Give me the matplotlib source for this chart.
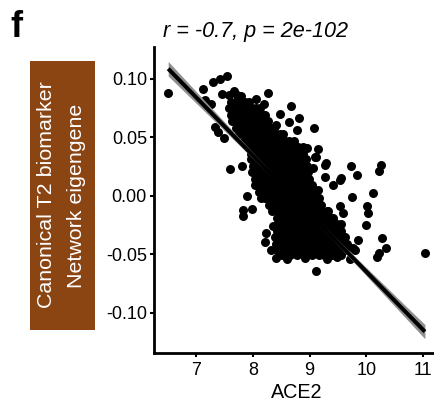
import numpy as np
import matplotlib
matplotlib.use("Agg")
import matplotlib.pyplot as plt
from matplotlib.patches import Rectangle

plt.rcParams['font.family'] = ['Liberation Sans', 'DejaVu Sans']
plt.rcParams['axes.unicode_minus'] = False

# Samples lying around the edge of the main cloud
sample_ace2 = [6.51, 7.12, 7.30, 7.43, 7.54, 7.45, 7.15, 7.26, 7.33, 7.39,
               7.49, 7.59, 7.81, 7.90, 7.82, 7.99, 7.83, 8.35, 8.24, 8.21,
               8.32, 8.40, 8.27, 8.67, 8.47, 8.63, 8.82, 9.08, 8.77, 8.40,
               9.15, 9.12, 9.29, 9.73, 8.95, 9.06, 10.25, 10.23, 9.83, 9.56,
               9.41, 9.27, 9.27, 9.74, 10.12, 10.01, 10.03, 9.99, 9.54, 9.56,
               9.85, 9.80, 10.28, 10.34, 10.19, 10.23, 9.71, 9.11, 11.03, 9.09,
               9.59, 9.77, 9.53, 9.15, 7.66, 7.80, 8.60, 8.92, 9.30, 9.48,
               8.05, 8.20]
sample_eigengene = [0.088, 0.091, 0.097, 0.100, 0.102, 0.087, 0.082, 0.078, 0.059, 0.054,
                    0.049, 0.023, 0.025, 0.000, -0.012, -0.011, -0.017, -0.026, -0.032, -0.040,
                    -0.046, -0.053, 0.088, 0.077, 0.070, 0.063, 0.066, 0.058, 0.056, 0.060,
                    0.040, 0.033, 0.028, 0.025, 0.041, 0.024, 0.026, 0.021, 0.018, 0.015,
                    0.009, 0.016, 0.026, -0.001, 0.002, -0.009, -0.015, -0.025, -0.009, -0.024,
                    -0.038, -0.046, -0.036, -0.045, -0.052, -0.049, -0.054, -0.064, -0.049, 0.033,
                    -0.015, -0.045, 0.013, 0.005, 0.089, 0.085, -0.054, -0.053, -0.054, -0.052,
                    0.083, 0.078]

# Samples in the dense core, grouped by eigengene level
core_levels = [0.086, 0.080, 0.075, 0.069, 0.064, 0.058, 0.053, 0.047, 0.042,
               0.036, 0.031, 0.025, 0.020, 0.014, 0.009, 0.003, -0.002, -0.008,
               -0.013, -0.019, -0.024, -0.030, -0.035, -0.041, -0.046, -0.051]
core_ace2 = [
    [7.58, 7.72],
    [7.62, 7.70, 7.78, 7.86, 7.94],
    [7.58, 7.66, 7.74, 7.82, 7.90, 7.98, 8.06, 8.12],
    [7.62, 7.70, 7.78, 7.86, 7.94, 8.02, 8.10, 8.18, 8.21],
    [7.63, 7.71, 7.79, 7.87, 7.95, 8.03, 8.11, 8.19, 8.27],
    [7.70, 7.78, 7.86, 7.94, 8.02, 8.10, 8.18, 8.26, 8.34, 8.37],
    [7.76, 7.84, 7.92, 8.00, 8.08, 8.16, 8.24, 8.32, 8.40, 8.48, 8.53],
    [7.84, 7.92, 8.00, 8.08, 8.16, 8.24, 8.32, 8.40, 8.48, 8.56, 8.64, 8.72],
    [7.92, 8.00, 8.08, 8.16, 8.24, 8.32, 8.40, 8.48, 8.56, 8.64, 8.72, 8.80, 8.88],
    [7.96, 8.04, 8.12, 8.20, 8.28, 8.36, 8.44, 8.52, 8.60, 8.68, 8.76, 8.84, 8.89],
    [7.97, 8.05, 8.13, 8.21, 8.29, 8.37, 8.45, 8.53, 8.61, 8.69, 8.77, 8.85, 8.93],
    [8.00, 8.08, 8.16, 8.24, 8.32, 8.40, 8.48, 8.56, 8.64, 8.72, 8.80, 8.88, 8.96],
    [7.98, 8.06, 8.14, 8.22, 8.30, 8.38, 8.46, 8.54, 8.62, 8.70, 8.78, 8.86, 8.94, 8.98],
    [8.03, 8.11, 8.19, 8.27, 8.35, 8.43, 8.51, 8.59, 8.67, 8.75, 8.83, 8.91, 8.99],
    [8.04, 8.12, 8.20, 8.28, 8.36, 8.44, 8.52, 8.60, 8.68, 8.76, 8.84, 8.92, 9.00, 9.04],
    [8.10, 8.18, 8.26, 8.34, 8.42, 8.50, 8.58, 8.66, 8.74, 8.82, 8.90, 8.98, 9.06, 9.12],
    [8.14, 8.22, 8.30, 8.38, 8.46, 8.54, 8.62, 8.70, 8.78, 8.86, 8.94, 9.02, 9.10, 9.16],
    [8.28, 8.36, 8.44, 8.52, 8.60, 8.68, 8.76, 8.84, 8.92, 9.00, 9.08, 9.16, 9.20],
    [8.34, 8.42, 8.50, 8.58, 8.66, 8.74, 8.82, 8.90, 8.98, 9.06, 9.14, 9.22, 9.30, 9.32],
    [8.42, 8.50, 8.58, 8.66, 8.74, 8.82, 8.90, 8.98, 9.06, 9.14, 9.22, 9.30, 9.38, 9.42],
    [8.44, 8.52, 8.60, 8.68, 8.76, 8.84, 8.92, 9.00, 9.08, 9.16, 9.24, 9.32, 9.40, 9.48],
    [8.43, 8.51, 8.59, 8.67, 8.75, 8.83, 8.91, 8.99, 9.07, 9.15, 9.23, 9.31, 9.39, 9.47, 9.55],
    [8.39, 8.47, 8.55, 8.63, 8.71, 8.79, 8.87, 8.95, 9.03, 9.11, 9.19, 9.27, 9.35, 9.43, 9.51,
     9.59, 9.62],
    [8.40, 8.48, 8.56, 8.64, 8.72, 8.80, 8.88, 8.96, 9.04, 9.12, 9.20, 9.28, 9.36, 9.44, 9.52,
     9.60, 9.66],
    [8.42, 8.50, 8.58, 8.66, 8.74, 8.82, 8.90, 8.98, 9.06, 9.14, 9.22, 9.30, 9.38, 9.46, 9.54,
     9.62],
    [8.52, 8.66, 8.78, 8.90, 9.04, 9.16, 9.26, 9.40, 9.56],
]

# Linear fit and its confidence band
fit_intercept = 0.432
fit_slope = -0.0497
band_center = 8.8
band_min_half = 0.0015
band_spread = 0.00264

title_text = "r = -0.7, p = 2e-102"
panel_tag = "f"
x_label = "ACE2"
y_label_lines = ["Canonical T2 biomarker", "Network eigengene"]
x_ticks = [7, 8, 9, 10, 11]
y_ticks = [-0.10, -0.05, 0.00, 0.05, 0.10]

ace2 = list(sample_ace2)
eigengene = list(sample_eigengene)
for level, xs in zip(core_levels, core_ace2):
    ace2.extend(xs)
    eigengene.extend([level] * len(xs))
ace2 = np.array(ace2)
eigengene = np.array(eigengene)

W, H = 434, 404
fig = plt.figure(figsize=(W / 100, H / 100), dpi=100)
ax = fig.add_axes([154 / W, 51 / H, 280 / W, 306 / H])

ax.scatter(ace2, eigengene, s=42, c='black', linewidths=0, zorder=2)

xs = np.linspace(ace2.min(), ace2.max(), 200)
yhat = fit_intercept + fit_slope * xs
half = np.sqrt(band_min_half ** 2 + (band_spread * (xs - band_center)) ** 2)
ax.fill_between(xs, yhat - half, yhat + half, color='#8f8f8f', linewidth=0, zorder=3)
ax.plot(xs, yhat, color='black', lw=2.9, solid_capstyle='butt', zorder=4)

ax.set_xlim(6.26, 11.19)
ax.set_ylim(-0.1344, 0.127)
ax.set_xticks(x_ticks)
ax.set_xticklabels([str(t) for t in x_ticks])
ax.set_yticks(y_ticks)
ax.set_yticklabels([f"{t:.2f}" for t in y_ticks])

for side in ('top', 'right'):
    ax.spines[side].set_visible(False)
for side in ('left', 'bottom'):
    ax.spines[side].set_linewidth(2.0)
    ax.spines[side].set_capstyle('projecting')
ax.tick_params(axis='both', length=2.6, width=1.5, labelsize=13, colors='black')
ax.tick_params(axis='y', pad=2.5)
ax.tick_params(axis='x', pad=4.0)

# Axis label and annotations
fig.text(296.7 / W, 2 / H, x_label, fontsize=14.2, ha='center', va='bottom')
fig.text(163 / W, 1 - 37.5 / H, title_text, fontsize=15.6, style='italic',
         ha='left', va='baseline')
fig.text(10 / W, 1 - 37 / H, panel_tag, fontsize=26, fontweight='bold',
         ha='left', va='baseline')

# Coloured box holding the y-axis title
fig.patches.append(Rectangle((30 / W, 1 - 330 / H), 65 / W, 269.3 / H,
                             transform=fig.transFigure, facecolor='#8B4513',
                             edgecolor='none'))
fig.text(51.7 / W, 1 - 195 / H, y_label_lines[0], color='white', fontsize=15.4,
         rotation=90, rotation_mode='anchor', ha='center', va='baseline')
fig.text(81.7 / W, 1 - 196 / H, y_label_lines[1], color='white', fontsize=15.4,
         rotation=90, rotation_mode='anchor', ha='center', va='baseline')

fig.savefig('out.png', dpi=100)
